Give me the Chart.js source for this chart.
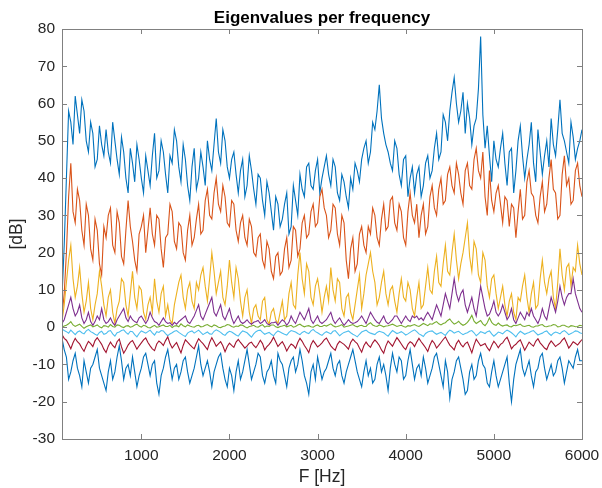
<!DOCTYPE html>
<html>
<head>
<meta charset="utf-8">
<script src="https://cdn.jsdelivr.net/npm/chart.js@4.4.1/dist/chart.umd.min.js"></script>
<style>
html,body{margin:0;padding:0;background:#fff;}
#wrap{width:602px;height:488px;position:relative;}
</style>
</head>
<body>
<div id="wrap"><canvas id="c" width="602" height="488"></canvas></div>
<script>
const freqs = [
100,125,150,175,200,225,250,275,300,325,350,375,400,425,450,475,500,525,550,575,
600,625,650,675,700,725,750,775,800,825,850,875,900,925,950,975,1000,1025,1050,1075,
1100,1125,1150,1175,1200,1225,1250,1275,1300,1325,1350,1375,1400,1425,1450,1475,1500,1525,1550,1575,
1600,1625,1650,1675,1700,1725,1750,1775,1800,1825,1850,1875,1900,1925,1950,1975,2000,2025,2050,2075,
2100,2125,2150,2175,2200,2225,2250,2275,2300,2325,2350,2375,2400,2425,2450,2475,2500,2525,2550,2575,
2600,2625,2650,2675,2700,2725,2750,2775,2800,2825,2850,2875,2900,2925,2950,2975,3000,3025,3050,3075,
3100,3125,3150,3175,3200,3225,3250,3275,3300,3325,3350,3375,3400,3425,3450,3475,3500,3525,3550,3575,
3600,3625,3650,3675,3700,3725,3750,3775,3800,3825,3850,3875,3900,3925,3950,3975,4000,4025,4050,4075,
4100,4125,4150,4175,4200,4225,4250,4275,4300,4325,4350,4375,4400,4425,4450,4475,4500,4525,4550,4575,
4600,4625,4650,4675,4700,4725,4750,4775,4800,4825,4850,4875,4900,4925,4950,4975,5000,5025,5050,5075,
5100,5125,5150,5175,5200,5225,5250,5275,5300,5325,5350,5375,5400,5425,5450,5475,5500,5525,5550,5575,
5600,5625,5650,5675,5700,5725,5750,5775,5800,5825,5850,5875,5900,5925,5950,5975,6000];

const eig1 = [
8,22,40,58,55,49,62,57,52,61,58,50,47,55,52,43,45,54,49,46,
53,47,44,55,50,45,41,51,47,40,36,48,44,39,49,45,40,36,46,42,
38,46,52,40,42,50,47,41,36,46,44,53,50,43,39,49,45,38,34,43,
48,37,40,47,43,38,50,45,42,49,56,47,44,53,50,43,40,45,47,41,
36,42,45,35,38,46,42,37,33,41,40,34,30,39,36,31,26,35,33,27,
29,33,36,25,27,38,34,30,41,37,35,43,44,38,37,42,45,36,40,43,
46,41,38,45,43,36,34,41,39,35,32,40,37,44,42,39,45,48,50,44,
47,55,53,58,65,56,52,49,47,44,42,50,48,41,38,45,46,35,40,43,
36,41,43,35,38,44,46,40,42,48,52,45,47,57,55,50,58,63,67,60,
55,58,63,52,60,56,49,54,56,64,78,57,48,54,46,39,50,45,43,48,
52,44,38,47,48,36,42,50,54,46,40,45,49,55,44,39,53,47,41,46,
50,43,56,49,46,53,61,52,50,47,44,55,51,45,48,50,53];

const eig2 = [
3,9,20,35,44,31,28,37,34,26,22,33,30,21,18,29,26,17,14,27,
24,30,32,22,20,31,28,19,17,26,34,27,23,18,15,25,27,30,20,26,
32,25,22,30,29,21,16,24,25,33,31,23,21,28,27,20,18,26,30,22,
24,29,33,25,26,34,37,30,29,36,40,33,31,38,35,28,27,34,33,26,
23,28,30,24,22,29,27,20,19,24,25,18,16,23,21,15,13,19,20,14,
15,21,24,16,18,27,26,19,21,28,30,24,25,31,33,27,28,35,37,32,
30,24,26,33,32,25,22,30,28,18,13,21,24,15,17,25,27,22,20,27,
25,32,30,24,22,29,33,26,27,34,35,28,26,33,31,24,22,31,36,30,
28,33,24,30,33,25,27,35,38,32,30,37,40,33,34,41,43,38,36,44,
41,36,33,42,44,38,37,45,48,42,40,47,35,30,42,34,31,36,38,33,
28,35,34,27,33,32,24,31,37,29,30,39,42,36,35,30,28,35,39,31,
33,40,45,37,36,29,30,41,46,38,40,33,34,42,44,38,35];

const eig3 = [
1.5,6,12,18,22,13,8,11,16,9,4,7,12,5,2,6,9,15,11,6,
3,8,10,4,1,5,7,13,12,6,3,9,15,8,5,11,10,4,2,6,
8,4,13,7,4,9,11,3,6,2,1,6,9,12,14,8,5,10,12,7,
5,12,10,14,16,11,7,13,20,15,9,12,15,8,6,11,18,12,8,16,
13,7,3,8,10,4,1,5,6,3,2,7,8,2,0.8,4,5,2,1,4,
7,2,3,9,12,6,5,14,20,13,9,17,15,8,6,11,13,9,4,8,
11,7,16,10,7,13,12,5,3,8,9,4,2,6,10,14,5,9,14,17,
20,15,12,6,8,12,15,9,6,10,11,7,4,9,13,8,7,12,10,5,
3,8,12,5,6,11,16,10,9,15,19,12,11,17,22,15,14,20,25,18,
13,17,20,24,28,19,15,23,21,14,12,20,18,11,8,13,14,9,5,8,
11,6,3,7,9,4,2,8,7,11,14,8,4,9,12,5,6,13,18,12,
9,13,15,8,5,12,21,14,10,16,17,11,16,15,22,17,14];

const eig4 = [
1,2,4,6,8,5,3,4,6,2.5,1,2,4,1.5,0.5,1.5,3,2,5,2,
1,1.5,2.5,1.2,0.5,2,3,4,5,2.5,1.5,3,2,1.5,1.2,2.5,3,2,1,2,
4,2.5,1.5,1.2,0.5,1.5,2.5,1.5,1,1.2,0.5,1.3,0.8,1.5,2,2.5,3,1.5,1,2,
3,4.5,6,3,2,3.5,5,6.5,8,4,3,4.5,6,3,2,3.5,5,2.5,1,2,
3,1.5,1,1.4,2,1.2,0.8,1.3,1.5,1.8,1,1.4,2,1,0.6,1.2,1.2,1.4,0.5,1.3,
2,1.5,0.5,1.3,3,1.8,1,2.5,4,3,2,3.5,5,2,1,2,3,1.5,1,1.5,
2,3,4,2,1,1.8,2.5,1.4,0.5,1.2,2,1.3,1,1.2,1.5,2.2,3,2,1,2.5,
4,3,2,1.3,1,2,3,1.5,0.9,1.4,2,3,3,2,1,2,3,2,1.5,3,
2.5,3,2,2.5,1.8,3,4,3,2,4,6,4.5,3,6,9,7,5,9,13,9,
7,9,10,6,4,6,8,5,3,7,11,8,5,3,3.5,5,7,4,3,4,
6,4,2,3,5,2,1,2.5,4,3,2,4,3,5,3,2,1,2.5,5,3,
2,5,8,6,4,7,11,8,6,8,9,9,13,9,7,5,4];

const eig5 = [
0,0.3,0.5,0.9,1.5,0.6,0.2,0.5,0.8,0.2,-0.3,0.1,0.4,0.6,0.1,0.3,0.6,0.1,-0.2,0.4,
0.3,0,0.7,0.2,0,0.6,0.5,0.1,-0.1,0.3,0.4,0,0.2,0.6,0.8,0.3,0,0.5,0.3,-0.1,
-0.2,0.2,0.5,0,0.1,0.4,0.6,0.2,0.2,0.5,-0.1,0.3,0.4,0.1,0.9,0.4,0.1,0.6,0.3,0.1,
0,0.4,0.5,0.1,0.2,0.5,0.7,0.3,0.1,0.6,0.4,0,-0.1,0.2,0.3,0.7,0.6,0.2,0,0.3,
0.2,0.6,0.5,0.1,-0.2,0.2,0.3,0.5,0.1,0,0.4,0.7,0,0.3,0.2,0.6,0.6,0.1,-0.1,0.2,
0.3,0.5,0.1,0.3,0.5,0,0.2,0.6,0.8,0.4,0.1,0.3,0.4,0.1,0,0.4,0.6,0.2,0.2,0.5,
0.3,0.6,0.9,0.4,0.1,0.2,0.4,0.7,0,0.2,0.3,0.5,0.7,0.3,0.1,0.4,0.5,0.2,0.2,0.8,
1.2,0.6,0.3,0.2,0.6,0.4,0.1,0.3,0.4,0.6,0.8,0.5,0.2,0.4,0.5,0.2,0,0.4,0.3,0.5,
0.7,0.4,0.2,0.6,1.0,0.7,0.4,0.9,0.8,1.2,1.5,0.9,0.6,1.0,1.2,1.8,2.2,1.4,0.8,1.1,
1.6,0.9,0.5,0.8,1.3,2.1,3.2,1.6,1.0,1.4,1.8,0.9,0.4,1.2,2.5,1.3,0.7,0.5,1.1,0.6,
0.3,0.5,0.6,0.2,0.1,0.5,0.4,0.6,0.8,0.3,0.2,0.4,0.5,0.1,0,0.3,0.3,0.6,0.7,0.2,
0.1,0.3,0.4,0.7,0.6,0.1,0.2,0.5,0.5,0.2,0,0.4,0.3,0.1,0.2,0.5,0.4];

const eig6 = [
-0.5,-0.9,-1.2,-1.6,-0.8,-1.4,-2.0,-1.3,-1.0,-1.5,-1.8,-1.0,-0.6,-1.2,-1.5,-1.9,-2.2,-1.4,-1.1,-1.9,
-1.7,-1.1,-0.9,-1.8,-2.4,-1.5,-1.3,-0.9,-0.7,-1.4,-1.9,-1.1,-1.2,-2.0,-2.6,-1.7,-1.0,-1.3,-1.6,-1.2,
-0.8,-1.5,-2.1,-1.2,-1.4,-0.9,-1.0,-1.7,-2.3,-1.8,-1.5,-1.1,-0.9,-1.4,-1.8,-2.2,-2.5,-1.6,-1.2,-1.0,
-1.6,-1.2,-0.8,-1.4,-2.0,-1.6,-1.3,-1.8,-1.9,-1.1,-0.7,-1.0,-1.4,-1.9,-2.2,-1.5,-1.1,-1.3,-1.7,-2.1,
-2.4,-1.6,-1.0,-1.2,-1.5,-2.1,-2.7,-1.8,-1.2,-0.9,-0.8,-1.4,-1.9,-1.6,-1.4,-1.9,-2.3,-1.5,-1.0,-1.3,
-1.6,-1.9,-2.1,-1.4,-0.9,-1.1,-1.3,-1.7,-2.0,-1.4,-1.1,-1.5,-1.7,-1.0,-0.6,-1.2,-1.5,-1.9,-2.2,-1.6,
-1.2,-1.5,-1.8,-1.1,-0.9,-1.6,-2.3,-1.8,-1.4,-1.2,-1.0,-1.5,-1.9,-2.2,-2.6,-1.9,-1.3,-1.0,-0.8,-1.3,
-1.6,-1.8,-2.0,-1.4,-1.1,-1.3,-1.5,-2.0,-2.4,-1.6,-0.9,-1.3,-1.7,-1.5,-1.2,-1.6,-2.1,-1.8,-1.4,-1.0,
-0.7,-1.2,-1.8,-2.1,-2.5,-1.7,-1.3,-1.1,-1.0,-1.5,-1.9,-1.6,-1.4,-1.8,-2.2,-1.4,-0.8,-1.1,-1.6,-1.3,
-1.1,-1.6,-2.0,-1.7,-1.5,-1.1,-0.9,-1.5,-2.3,-1.8,-1.2,-1.4,-1.7,-1.2,-1.0,-1.8,-2.4,-1.9,-1.3,-1.5,
-1.8,-1.2,-0.8,-1.1,-1.5,-2.0,-2.6,-1.7,-1.1,-1.5,-1.9,-1.6,-1.4,-1.1,-0.9,-1.5,-2.1,-1.8,-1.6,-1.2,
-1.0,-1.7,-2.2,-1.6,-1.3,-1.5,-1.8,-1.2,-0.9,-1.4,-2.0,-1.7,-1.4,-1.0,-1.1,-1.5,-1.7];

const eig7 = [
-2.0,-3.0,-3.5,-4.6,-5.8,-4.2,-3.0,-3.9,-4.5,-5.6,-6.5,-5.0,-3.8,-4.4,-5.2,-3.6,-2.8,-3.7,-4.6,-5.9,
-6.8,-5.1,-4.0,-4.9,-5.5,-3.9,-3.2,-5.3,-7.0,-6.0,-4.8,-4.0,-3.6,-4.7,-5.9,-5.0,-4.2,-3.4,-2.9,-4.1,
-5.0,-5.8,-6.3,-4.5,-3.7,-4.2,-4.9,-3.6,-2.6,-4.4,-5.6,-4.8,-4.1,-5.5,-6.9,-4.9,-3.4,-4.0,-4.7,-5.3,
-5.8,-4.3,-3.1,-3.8,-4.4,-5.2,-6.0,-4.1,-2.8,-3.9,-5.1,-4.5,-3.9,-5.0,-6.6,-5.2,-4.3,-4.9,-5.4,-4.0,
-3.3,-4.1,-4.8,-5.6,-5.0,-4.3,-4.0,-4.9,-5.5,-4.6,-3.5,-4.4,-6.1,-5.2,-4.6,-3.8,-2.7,-3.9,-5.2,-4.5,
-3.9,-5.0,-6.4,-5.3,-4.5,-4.9,-5.7,-4.1,-3.0,-3.8,-4.9,-5.8,-6.8,-4.7,-3.6,-4.4,-5.3,-4.8,-4.2,-3.4,
-2.9,-4.0,-5.0,-5.7,-6.2,-4.6,-3.8,-4.2,-4.6,-5.2,-5.9,-4.1,-3.2,-3.9,-4.4,-5.6,-6.7,-5.0,-4.0,-4.8,
-5.4,-4.2,-3.4,-4.1,-4.9,-6.1,-7.0,-5.0,-3.7,-4.4,-5.1,-3.9,-2.8,-3.6,-4.5,-5.4,-6.0,-4.6,-3.9,-4.3,
-5.2,-4.0,-3.0,-3.9,-4.7,-5.5,-6.5,-4.8,-3.6,-4.3,-5.6,-4.9,-4.1,-3.3,-2.6,-3.8,-4.8,-5.4,-6.1,-4.4,
-3.5,-4.6,-5.3,-4.4,-4.0,-5.4,-6.9,-4.8,-3.2,-4.1,-5.0,-4.7,-4.4,-5.5,-6.3,-4.9,-3.8,-4.5,-5.5,-4.6,
-4.2,-3.3,-2.7,-4.1,-5.8,-5.0,-4.6,-3.9,-3.4,-4.8,-6.2,-5.1,-4.0,-4.6,-5.1,-3.8,-3.1,-4.2,-4.9,-5.6,
-6.0,-4.6,-3.7,-4.4,-5.2,-4.7,-4.3,-3.5,-2.9,-4.2,-5.6,-4.8,-3.9,-4.3,-4.8,-4.0,-3.3];

const eig8 = [
-3,-6,-8,-14,-12,-9,-7,-11,-13,-16,-9,-12,-15,-11,-10,-8,-6,-11,-13,-15,
-17,-12,-9,-14,-12,-8,-5,-9,-14,-11,-10,-13,-8,-12,-16,-13,-11,-8,-7,-10,
-13,-10,-9,-15,-18,-13,-11,-8,-6,-10,-14,-11,-10,-14,-12,-9,-8,-12,-15,-13,
-11,-8,-5,-10,-13,-11,-9,-12,-16,-12,-10,-8,-7,-11,-14,-16,-11,-13,-17,-12,
-9,-14,-12,-9,-6,-10,-14,-12,-10,-7,-8,-13,-15,-12,-11,-9,-13,-15,-7,-9,
-10,-13,-16,-11,-9,-8,-12,-10,-6,-9,-13,-15,-18,-12,-10,-14,-8,-11,-14,-12,
-11,-9,-7,-11,-13,-10,-9,-13,-15,-12,-10,-8,-6,-9,-12,-14,-16,-12,-9,-13,
-11,-15,-14,-10,-8,-12,-10,-13,-17,-11,-7,-10,-12,-8,-9,-14,-13,-9,-6,-10,
-14,-11,-10,-13,-8,-11,-15,-13,-11,-8,-7,-10,-13,-16,-9,-12,-19,-14,-12,-9,
-8,-11,-14,-18,-17,-12,-10,-14,-13,-9,-7,-10,-11,-15,-16,-12,-9,-13,-16,-14,
-12,-10,-8,-15,-20,-14,-10,-8,-6,-11,-13,-11,-9,-13,-16,-12,-11,-8,-7,-11,
-14,-12,-10,-13,-12,-9,-8,-11,-15,-12,-9,-10,-11,-8,-6,-9,-9];

const xTicks = [1000,2000,3000,4000,5000,6000];
const yTicks = [-30,-20,-10,0,10,20,30,40,50,60,70,80];
const seriesList = [eig1,eig2,eig3,eig4,eig5,eig6,eig7,eig8];
const colors = ['#0072BD','#D95319','#EDB120','#7E2F8E','#77AC30','#4DBEEE','#A2142F','#0072BD'];
const titleText = 'Eigenvalues per frequency';

const FONT = "'Liberation Sans', Arial, Helvetica, sans-serif";
const TXT = '#262626';

const datasets = seriesList.map((s, i) => ({
  data: s.map((v, k) => ({x: freqs[k], y: v})),
  borderColor: colors[i],
  borderWidth: 1.1,
  pointRadius: 0,
  tension: 0,
  fill: false,
  order: 8 - i
}));

const boxPlugin = {
  id: 'box',
  afterDatasetsDraw(chart) {
    const {ctx, chartArea: a, scales} = chart;
    ctx.save();
    ctx.strokeStyle = '#808080';
    ctx.lineWidth = 1;
    ctx.strokeRect(Math.round(a.left) + 0.5, Math.round(a.top) + 0.5,
      Math.round(a.right - a.left), Math.round(a.bottom - a.top));
    const L = 5;
    ctx.beginPath();
    xTicks.forEach(t => {
      const px = Math.round(scales.x.getPixelForValue(t)) + 0.5;
      ctx.moveTo(px, a.bottom); ctx.lineTo(px, a.bottom - L);
      ctx.moveTo(px, a.top); ctx.lineTo(px, a.top + L);
    });
    yTicks.forEach(t => {
      const py = Math.round(scales.y.getPixelForValue(t)) + 0.5;
      ctx.moveTo(a.left, py); ctx.lineTo(a.left + L, py);
      ctx.moveTo(a.right, py); ctx.lineTo(a.right - L, py);
    });
    ctx.stroke();
    ctx.fillStyle = '#000';
    ctx.font = 'bold 17px ' + FONT;
    ctx.textAlign = 'center';
    ctx.textBaseline = 'alphabetic';
    ctx.fillText(titleText, (a.left + a.right) / 2, 23);
    ctx.restore();
  }
};

new Chart(document.getElementById('c'), {
  type: 'line',
  data: {datasets},
  options: {
    responsive: false,
    animation: false,
    layout: {padding: {left: 0, right: 20, top: 29, bottom: 0}},
    plugins: {
      legend: {display: false},
      tooltip: {enabled: false},
      title: {display: false}
    },
    scales: {
      x: {
        type: 'linear',
        min: 100, max: 6000,
        afterBuildTicks: s => { s.ticks = xTicks.map(v => ({value: v})); },
        afterFit: s => { s.height = 49; s.paddingRight = 0; s.paddingLeft = 0; },
        grid: {display: false, drawTicks: false},
        border: {display: false},
        ticks: {color: TXT, font: {family: FONT, size: 15.5}, padding: 7, maxRotation: 0, autoSkip: false,
                callback: v => String(v)},
        title: {display: true, text: 'F [Hz]', color: TXT, font: {family: FONT, size: 17.5}, padding: {top: 0, bottom: 0}}
      },
      y: {
        type: 'linear',
        min: -30, max: 80,
        afterBuildTicks: s => { s.ticks = yTicks.map(v => ({value: v})); },
        afterFit: s => { s.width = 62; s.paddingTop = 0; s.paddingBottom = 0; },
        grid: {display: false, drawTicks: false},
        border: {display: false},
        ticks: {color: TXT, font: {family: FONT, size: 15.5}, padding: 7, callback: v => String(v)},
        title: {display: true, text: '[dB]', color: TXT, font: {family: FONT, size: 17.5}, padding: {top: 7, bottom: 0}}
      }
    }
  },
  plugins: [boxPlugin]
});
</script>
</body>
</html>
